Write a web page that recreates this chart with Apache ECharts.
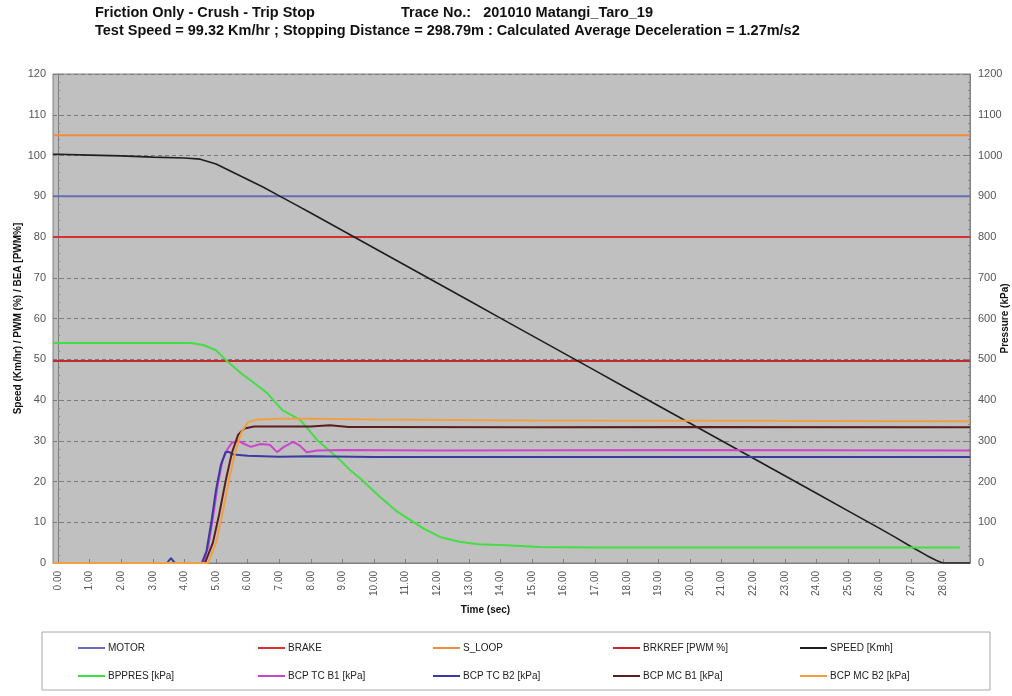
<!DOCTYPE html>
<html>
<head>
<meta charset="utf-8">
<script src="https://cdn.jsdelivr.net/npm/echarts@6/dist/echarts.min.js"></script>
<style>
html,body{margin:0;padding:0;background:#fff;}
#chart{width:1012px;height:696px;}
</style>
</head>
<body>
<div id="chart"></div>
<script>
// ---- axis extents / ticks ----
const T_MIN = -0.16, T_MAX = 28.86;
const timeTicks = [0,1,2,3,4,5,6,7,8,9,10,11,12,13,14,15,16,17,18,19,20,21,22,23,24,25,26,27,28];

// ---- constant channels (left axis, %) ----
const motorT = [T_MIN, T_MAX],  motorV = [90, 90];
const brakeT = [T_MIN, T_MAX],  brakeV = [80, 80];
const sloopT = [T_MIN, T_MAX],  sloopV = [105, 105];
const brkrefT = [T_MIN, T_MAX], brkrefV = [49.6, 49.6];

// ---- speed (left axis, km/h) ----
const speedT = [-0.16,0,1,2,3,4,4.5,5,5.5,6,6.5,7,7.5,8,9,10,11,12,13,14,15,16,17,18,19,20,21,22,23,24,25,26,26.5,27,27.5,27.8,28,28.86];
const speedV = [100.3,100.3,100.1,99.9,99.6,99.4,99.1,97.9,96.0,94.1,92.2,90.1,88.0,85.9,81.6,77.3,73.0,68.7,64.4,60.1,55.8,51.5,47.2,42.9,38.6,34.3,30.0,25.7,21.4,17.1,12.8,8.5,6.3,4.0,1.8,0.6,0,0];

// ---- pressures (right axis, kPa) ----
const bppresT = [-0.16,4.2,4.6,5.0,5.38,5.8,6.08,6.6,7.1,7.66,8.2,8.92,9.24,9.6,10.19,10.7,11.14,11.6,12.09,12.7,13.3,14,15.25,17,20,24,28.54];
const bppresV = [540,540,535,522,493,465,449,418,375,351,302,253,228,205,162,128,106,83,64,52,46,44,39,38,38,38,38];

const tcb1T = [-0.16,4.6,4.75,4.9,5.05,5.2,5.35,5.5,5.7,5.9,6.1,6.4,6.7,6.93,7.15,7.44,7.65,7.87,8.2,9,12,20,28.86];
const tcb1V = [0,0,40,110,190,250,278,295,300,292,285,292,290,272,285,297,288,272,276,277,276,277,276];

const tcb2T = [-0.16,3.45,3.57,3.7,4.55,4.7,4.85,5.0,5.15,5.3,5.4,5.55,6,7,8,10,28.86];
const tcb2V = [0,0,12,0,0,30,100,180,240,272,273,266,263,261,262,260,260];

const mcb1T = [-0.16,4.65,4.9,5.1,5.3,5.5,5.7,5.9,6.2,7,8,8.6,9.2,10,15,20,28.86];
const mcb1V = [0,0,50,120,200,270,315,330,335,335,335,338,334,334,333,334,333];

const mcb2T = [-0.16,4.75,5.0,5.2,5.4,5.6,5.8,6.0,6.3,7,8,10,15,20,28.86];
const mcb2V = [0,0,50,120,200,270,320,345,352,354,354,352,350,349,348];

const zip = (t, v) => t.map((x, i) => [x, v[i]]);

const FONT = '"Liberation Sans", Arial, sans-serif';

const seriesDefs = [
  {name:'MOTOR', t:motorT, v:motorV, color:'#6a6ab8', w:2, y:0},
  {name:'BRAKE', t:brakeT, v:brakeV, color:'#d83030', w:2, y:0},
  {name:'S_LOOP', t:sloopT, v:sloopV, color:'#f08c40', w:2, y:0},
  {name:'BRKREF [PWM %]', t:brkrefT, v:brkrefV, color:'#c42828', w:2, y:0},
  {name:'SPEED [Kmh]', t:speedT, v:speedV, color:'#1e1e1e', w:1.6, y:0},
  {name:'BPPRES [kPa]', t:bppresT, v:bppresV, color:'#44dd44', w:2, y:1},
  {name:'BCP TC B1 [kPa]', t:tcb1T, v:tcb1V, color:'#cc44cc', w:2, y:1},
  {name:'BCP TC B2 [kPa]', t:tcb2T, v:tcb2V, color:'#3a3aa0', w:2, y:1},
  {name:'BCP MC B1 [kPa]', t:mcb1T, v:mcb1V, color:'#5a1e1e', w:2, y:1},
  {name:'BCP MC B2 [kPa]', t:mcb2T, v:mcb2V, color:'#f0a040', w:2, y:1}
];

const legendCols = [78, 258, 433, 613, 800];
const legends = legendCols.map((x, i) => ({
  orient: 'vertical',
  left: x,
  top: 643,
  padding: 0,
  itemWidth: 27,
  itemHeight: 2,
  itemGap: 18,
  icon: 'rect',
  textStyle: {fontFamily: FONT, fontSize: 10, color: '#222', padding: [0,0,0,-2]},
  data: [seriesDefs[i].name, seriesDefs[i + 5].name]
}));

const titleStyle = {fontFamily: FONT, fontSize: 14.5, fontWeight: 'bold', color: '#111'};

const chart = echarts.init(document.getElementById('chart'), null, {renderer: 'canvas'});
chart.setOption({
  backgroundColor: '#ffffff',
  animation: false,
  title: [
    {text: 'Friction Only - Crush - Trip Stop', left: 95, top: 5, padding: 0, textStyle: titleStyle},
    {text: 'Trace No.:   201010 Matangi_Taro_19', left: 401, top: 5, padding: 0, textStyle: titleStyle},
    {text: 'Test Speed = 99.32 Km/hr ; Stopping Distance = 298.79m : Calculated Average Deceleration = 1.27m/s2', left: 95, top: 23, padding: 0, textStyle: titleStyle}
  ],
  legend: legends,
  graphic: [{
    type: 'rect', silent: true, z: -1,
    shape: {x: 42, y: 632, width: 948, height: 58},
    style: {fill: '#fff', stroke: '#a8a8a8', lineWidth: 1}
  }],
  grid: {
    left: 53, right: 42, top: 74, bottom: 133,
    outerBoundsMode: 'none', containLabel: false,
    show: true, backgroundColor: '#c0c0c0', borderColor: '#808080', borderWidth: 1
  },
  xAxis: {
    type: 'value', min: T_MIN, max: T_MAX,
    name: 'Time (sec)', nameLocation: 'middle', nameGap: 42, nameMoveOverlap: false,
    nameTextStyle: {fontFamily: FONT, fontSize: 10, fontWeight: 'bold', color: '#111', padding: [0, 52, 0, 0]},
    axisLine: {show: true, lineStyle: {color: '#808080'}},
    axisTick: {show: true, inside: true, length: 4, customValues: timeTicks, lineStyle: {color: '#808080'}},
    axisLabel: {
      customValues: timeTicks, rotate: 90, margin: 8,
      fontFamily: FONT, fontSize: 10, color: '#555',
      formatter: v => Number(v).toFixed(2)
    },
    splitLine: {show: false}
  },
  yAxis: [
    {
      type: 'value', min: 0, max: 120, interval: 10, position: 'left',
      name: 'Speed (Km/hr) / PWM (%) / BEA [PWM%]', nameLocation: 'middle', nameGap: 30, nameRotate: 90,
      nameMoveOverlap: false,
      nameTextStyle: {fontFamily: FONT, fontSize: 10, fontWeight: 'bold', color: '#111'},
      axisLine: {show: true, lineStyle: {color: '#808080'}},
      axisTick: {show: true, inside: true, length: 4, lineStyle: {color: '#808080'}},
      minorTick: {show: true, splitNumber: 5, length: 2, lineStyle: {color: '#8a8a8a'}},
      axisLabel: {fontFamily: FONT, fontSize: 11, color: '#555', margin: 7, formatter: v => String(v)},
      splitLine: {show: true, lineStyle: {color: '#7a7a7a', type: [4, 3], width: 1}}
    },
    {
      type: 'value', min: 0, max: 1200, interval: 100, position: 'right',
      name: 'Pressure (kPa)', nameLocation: 'middle', nameGap: 30, nameRotate: 90,
      nameMoveOverlap: false,
      nameTextStyle: {fontFamily: FONT, fontSize: 10, fontWeight: 'bold', color: '#111'},
      axisLine: {show: true, lineStyle: {color: '#808080'}},
      axisTick: {show: true, inside: true, length: 4, lineStyle: {color: '#808080'}},
      minorTick: {show: true, splitNumber: 5, length: 2, lineStyle: {color: '#8a8a8a'}},
      axisLabel: {fontFamily: FONT, fontSize: 11, color: '#555', margin: 8, formatter: v => String(v)},
      splitLine: {show: false}
    }
  ],
  series: seriesDefs.map(d => ({
    name: d.name, type: 'line', yAxisIndex: d.y,
    data: zip(d.t, d.v),
    symbol: 'none', showSymbol: false,
    lineStyle: {color: d.color, width: d.w},
    itemStyle: {color: d.color},
    emphasis: {disabled: true}
  }))
});
</script>
</body>
</html>
